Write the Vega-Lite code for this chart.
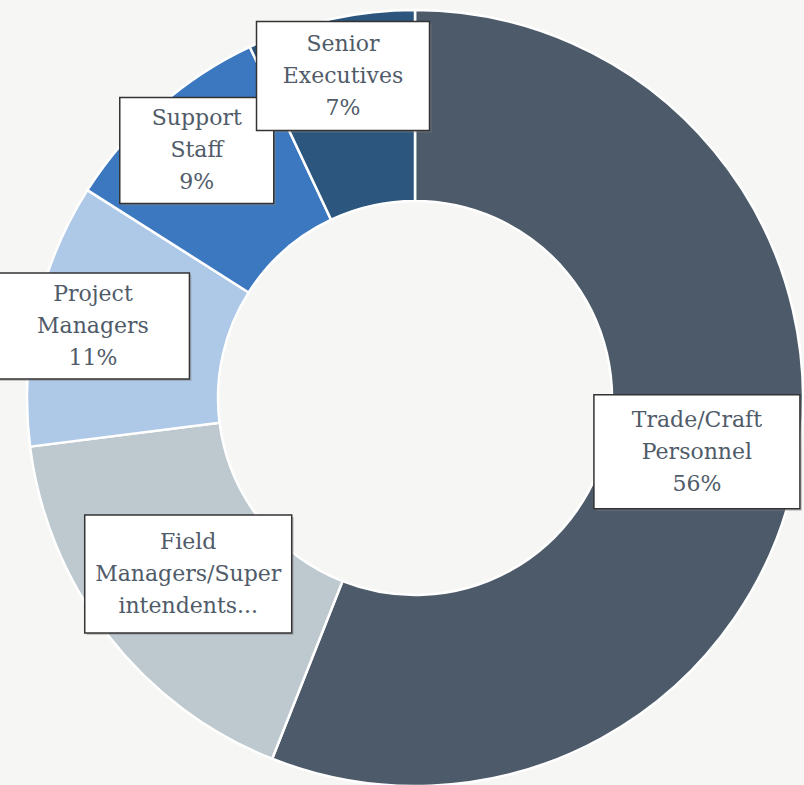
{
  "$schema": "https://vega.github.io/schema/vega-lite/v6.json",
  "autosize": {"type": "none"},
  "width": 778,
  "height": 774,
  "padding": {"left": 26, "top": 11, "right": 0, "bottom": 0},
  "background": "#f6f6f4",
  "config": {"view": {"stroke": null}},
  "data": {
    "values": [
      {"category": "Trade/Craft Personnel", "value": 56, "label": "Trade/Craft|Personnel|56%"},
      {"category": "Field Managers/Superintendents", "value": 17, "label": "Field|Managers/Super|intendents..."},
      {"category": "Project Managers", "value": 11, "label": "Project|Managers|11%"},
      {"category": "Support Staff", "value": 9, "label": "Support|Staff|9%"},
      {"category": "Senior Executives", "value": 7, "label": "Senior|Executives|7%"}
    ]
  },
  "transform": [
    {"joinaggregate": [{"op": "sum", "field": "value", "as": "total"}]},
    {"window": [{"op": "sum", "field": "value", "as": "cum"}], "frame": [null, 0]},
    {"calculate": "datum.cum - datum.value", "as": "cum0"},
    {"calculate": "2 * PI * (datum.cum - datum.value / 2) / datum.total", "as": "mid"},
    {"calculate": "datum.value < 12 ? 330 : 287", "as": "lr"},
    {"calculate": "datum.lr * sin(datum.mid)", "as": "lx"},
    {"calculate": "datum.lr * cos(datum.mid)", "as": "ly"}
  ],
  "layer": [
    {
      "mark": {"type": "arc", "outerRadius": 388, "innerRadius": 197, "stroke": "#ffffff", "strokeWidth": 2.5},
      "encoding": {
        "theta": {"field": "cum0", "type": "quantitative", "stack": null, "scale": {"domain": [0, 100]}},
        "theta2": {"field": "cum"},
        "color": {
          "field": "category",
          "type": "nominal",
          "legend": null,
          "scale": {
            "domain": ["Trade/Craft Personnel", "Field Managers/Superintendents", "Project Managers", "Support Staff", "Senior Executives"],
            "range": ["#4c5a69", "#bdc8cf", "#aec8e7", "#3b78c0", "#2c567d"]
          }
        }
      }
    },
    {
      "mark": {"type": "point", "filled": true, "size": 40000, "fill": "#8a8a8a", "opacity": 0.45, "strokeWidth": 0, "xOffset": 2, "yOffset": 2},
      "encoding": {
        "x": {"field": "lx", "type": "quantitative", "axis": null, "scale": {"domain": [-389, 389], "nice": false, "zero": false}},
        "y": {"field": "ly", "type": "quantitative", "axis": null, "scale": {"domain": [-387, 387], "nice": false, "zero": false}},
        "shape": {
          "field": "category",
          "type": "nominal",
          "legend": null,
          "scale": {
            "domain": ["Trade/Craft Personnel", "Field Managers/Superintendents", "Project Managers", "Support Staff", "Senior Executives"],
            "range": ["M-1.03,-0.57H1.03V0.57H-1.03Z", "M-1.035,-0.59H1.035V0.59H-1.035Z", "M-0.965,-0.53H0.965V0.53H-0.965Z", "M-0.77,-0.53H0.77V0.53H-0.77Z", "M-0.865,-0.545H0.865V0.545H-0.865Z"]
          }
        }
      }
    },
    {
      "mark": {"type": "point", "filled": true, "size": 40000, "fill": "#ffffff", "opacity": 1, "stroke": "#333333", "strokeWidth": 1.5},
      "encoding": {
        "x": {"field": "lx", "type": "quantitative"},
        "y": {"field": "ly", "type": "quantitative"},
        "shape": {"field": "category", "type": "nominal", "legend": null}
      }
    },
    {
      "mark": {"type": "text", "font": "DejaVu Serif", "fontSize": 22, "lineHeight": 32, "lineBreak": "|", "align": "center", "baseline": "middle", "dy": -32, "color": "#4f5b69"},
      "encoding": {
        "x": {"field": "lx", "type": "quantitative"},
        "y": {"field": "ly", "type": "quantitative"},
        "text": {"field": "label"}
      }
    }
  ]
}
